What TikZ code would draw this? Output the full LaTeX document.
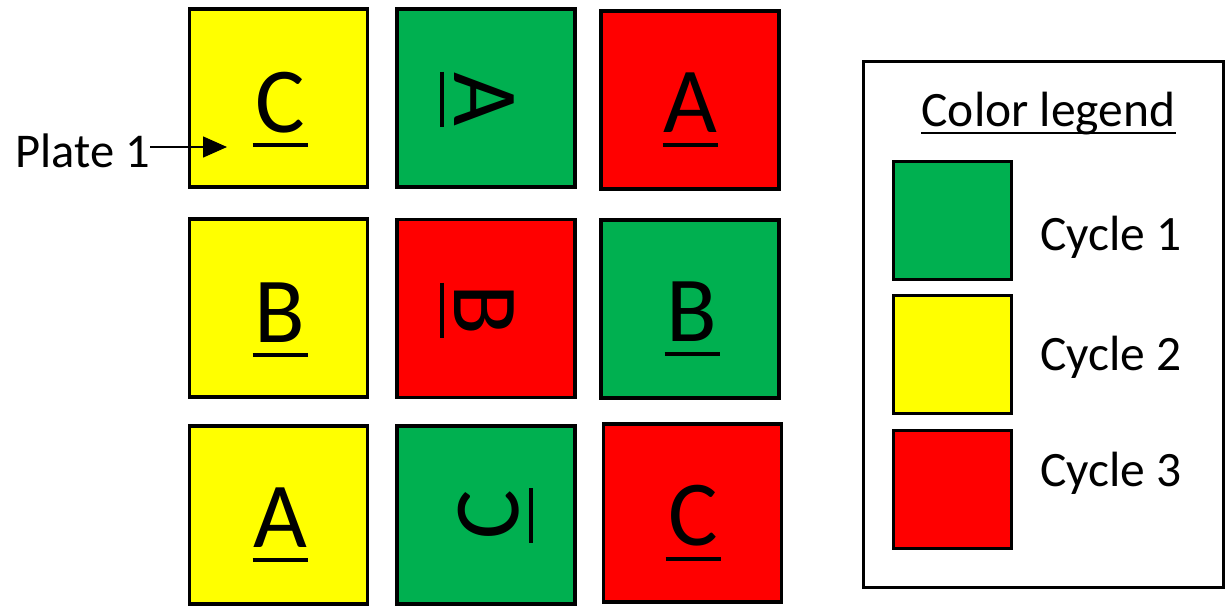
\documentclass[tikz,border=0pt]{standalone}
\usepackage{fontspec}
\setmainfont{Carlito}
\usetikzlibrary{arrows.meta}
\definecolor{cgreen}{HTML}{00B050}
\definecolor{cyellow}{HTML}{FFFF00}
\definecolor{cred}{HTML}{FF0000}
\newcommand\ulmark[1]{\vtop{\hbox to 55pt{\hss#1\hss}\kern10pt\hrule height 4pt}}
\begin{document}
\begin{tikzpicture}[x=1pt,y=-1pt,
  plate/.style={draw=black, line width=3.5pt, minimum width=178pt, minimum height=178pt, inner sep=0pt},
  swatch/.style={draw=black, line width=3pt, minimum width=118pt, minimum height=118pt, inner sep=0pt},
  bigletter/.style={inner sep=0pt, font=\fontsize{93}{93}\selectfont},
  legtext/.style={inner sep=0pt, font=\fontsize{49.5}{49.5}\selectfont, anchor=base west},
  arr/.style={line width=1.5pt, -{Triangle[length=24pt,width=21pt]}}]
\useasboundingbox (0,0) rectangle (1226,605);
% plates
\node[plate, fill=cyellow] (p11) at (278.5,98) {};
\node[plate, fill=cgreen]  (p12) at (486,98) {};
\node[plate, fill=cred]    (p13) at (690,100) {};
\node[plate, fill=cyellow] (p21) at (278.5,308) {};
\node[plate, fill=cred]    (p22) at (486,308.5) {};
\node[plate, fill=cgreen]  (p23) at (690,309) {};
\node[plate, fill=cyellow] (p31) at (278.5,515) {};
\node[plate, fill=cgreen]  (p32) at (486,515) {};
\node[plate, fill=cred]    (p33) at (692.5,513) {};
% letters
\node[bigletter] (l11) at (280,110) {\ulmark{C}};
\node[bigletter, rotate=-90] (l12) at (477,99) {\ulmark{A}};
\node[bigletter] (l13) at (690,110) {\ulmark{A}};
\node[bigletter] (l21) at (280,320) {\ulmark{B}};
\node[bigletter, rotate=-90] (l22) at (477,310) {\ulmark{B}};
\node[bigletter] (l23) at (692,319) {\ulmark{B}};
\node[bigletter] (l31) at (280,525) {\ulmark{A}};
\node[bigletter, rotate=90] (l32) at (496,515) {\ulmark{C}};
\node[bigletter] (l33) at (693,523) {\ulmark{C}};
% plate label
\node[legtext, font=\fontsize{48.5}{48.5}\selectfont, anchor=base east] (plate) at (150,167) {Plate 1};
\coordinate (p1tip) at (227,147);
\draw[arr] (plate.east |- p1tip) -- (p1tip);
% legend
\node[draw=black, line width=3pt, minimum width=360pt, minimum height=525.5pt, inner sep=0pt] (legend) at (1043.5,324.25) {};
\node[legtext, anchor=base] (title) at (1048.5,126) {Color legend};
\draw[line width=2pt] ([yshift=-7pt]title.base west) -- ([yshift=-7pt]title.base east);
\node[swatch, fill=cgreen]  (s1) at (952.5,220.5) {};
\node[swatch, fill=cyellow] (s2) at (952.5,354.5) {};
\node[swatch, fill=cred]    (s3) at (952.5,489.5) {};
\node[legtext] (c1) at (1040,250) {Cycle 1};
\node[legtext] (c2) at (1040,370) {Cycle 2};
\node[legtext] (c3) at (1040,486) {Cycle 3};
\end{tikzpicture}
\end{document}
